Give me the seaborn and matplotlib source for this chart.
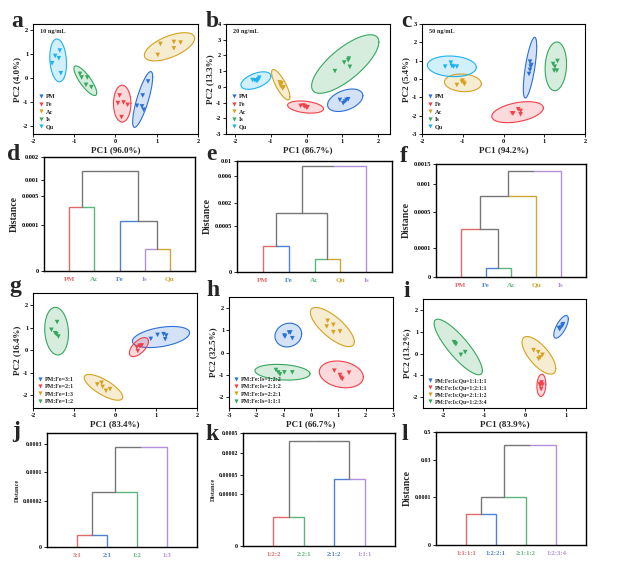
import numpy as np
import pandas as pd
import seaborn as sns
import matplotlib
matplotlib.use("Agg")
import matplotlib.pyplot as plt
from matplotlib.lines import Line2D
from matplotlib.ticker import MultipleLocator


# --- colours
c_blue = "#2c6fd9"
c_red = "#f0414a"
c_gold = "#d6a21f"
c_green = "#35a85e"
c_sky = "#1db2f0"
d_red = "#e06a6a"
d_green = "#5cb57c"
d_blue = "#4f81d3"
d_purple = "#b48fd9"
d_gold = "#cfa536"
d_gray = "#777777"

# --- PCA panels: points + ellipse (xmin, xmax, ymin, ymax, tilt)
a_groups = ["PM", "Fe", "Ac", "Is", "Qu"]
a_x = [[0.789, 0.659, 0.520, 0.642, 0.683],
       [0.098, 0.057, 0.195, 0.293, 0.146],
       [1.089, 1.415, 1.577, 1.415, 1.024],
       [-0.862, -0.821, -0.683, -0.715, -0.585],
       [-1.350, -1.463, -1.374, -1.537, -1.325]]
a_y = [[-0.145, -0.727, -1.156, -1.183, -1.322],
       [-0.727, -1.045, -1.017, -1.114, -1.626],
       [1.419, 1.502, 1.474, 1.239, 0.962],
       [0.173, 0.021, 0.021, -0.284, -0.381],
       [1.142, 0.920, 0.824, 0.616, 0.201]]
a_ell = [(0.415, 0.902, -2.055, 0.270, 0.8),
         (-0.049, 0.374, -1.834, -0.298, 0.0),
         (0.699, 1.919, 0.713, 1.889, 0.6),
         (-1.008, -0.455, -0.727, 0.505, -0.82),
         (-1.593, -1.187, -0.159, 1.626, -0.15)]

b_groups = a_groups
b_x = [[0.930, 1.023, 1.116, 1.163, 1.070],
       [-0.167, -0.047, 0.000, 0.028, -0.084],
       [-0.753, -0.698, -0.726, -0.670, -0.642],
       [0.791, 1.051, 1.163, 1.181, 1.209],
       [-1.507, -1.442, -1.386, -1.349, -1.321]]
b_y = [[-0.832, -1.042, -0.832, -0.789, -0.937],
       [-1.211, -1.253, -1.316, -1.295, -1.189],
       [0.284, 0.221, 0.074, -0.095, -0.032],
       [1.000, 1.547, 1.695, 1.800, 1.274],
       [0.432, 0.411, 0.368, 0.474, 0.579]]
b_ell = [(0.586, 1.572, -1.568, -0.137, 0.4),
         (-0.530, 0.474, -1.674, -0.895, -0.3),
         (-0.977, -0.465, -0.832, 1.105, -0.8),
         (0.140, 2.019, -0.411, 3.316, 0.75),
         (-1.833, -0.995, -0.158, 0.958, 0.5)]

c_groups = a_groups
c_x = [[0.650, 0.683, 0.650, 0.626, 0.667],
       [0.214, 0.362, 0.420, 0.420, 0.239],
       [-1.144, -1.004, -0.979, -0.955, -1.021],
       [1.218, 1.259, 1.325, 1.243, 1.309],
       [-1.432, -1.292, -1.267, -1.226, -1.144]]
c_y = [[0.945, 0.764, 0.491, 0.273, 0.673],
       [-1.873, -1.655, -1.745, -1.927, -1.873],
       [-0.327, -0.091, -0.200, -0.273, -0.145],
       [0.818, 0.673, 0.982, 0.455, 0.455],
       [0.673, 0.891, 0.709, 0.673, 0.673]]
c_ell = [(0.486, 0.815, -1.036, 2.273, 0.7),
         (-0.288, 0.979, -2.382, -1.236, 0.4),
         (-1.449, -0.543, -0.691, 0.273, -0.1),
         (1.021, 1.547, -0.636, 2.018, 0.1),
         (-1.868, -0.667, 0.127, 1.255, -0.1)]

g_groups = ["PM:Fe=3:1", "PM:Fe=2:1", "PM:Fe=1:3", "PM:Fe=1:2"]
g_x = [[0.873, 1.037, 1.184, 1.249, 1.224],
       [0.531, 0.596, 0.653, 0.555, 0.629],
       [-0.433, -0.327, -0.302, -0.220, -0.122],
       [-1.412, -1.551, -1.461, -1.429, -1.380]]
g_y = [[0.507, 0.687, 0.716, 0.657, 0.493],
       [0.134, 0.194, 0.209, -0.030, 0.194],
       [-1.522, -1.448, -1.627, -1.806, -1.731],
       [1.254, 0.910, 0.761, 0.716, 0.612]]
g_ell = [(0.424, 1.820, 0.119, 1.060, 0.4),
         (0.351, 0.816, -0.284, 0.567, 0.6),
         (-0.751, 0.188, -2.224, -1.075, -0.75),
         (-1.714, -1.135, -0.209, 1.910, -0.1)]

h_groups = ["PM:Fe:Is=1:2:2", "PM:Fe:Is=2:1:2", "PM:Fe:Is=2:2:1", "PM:Fe:Is=1:1:1"]
h_x = [[-0.951, -0.805, -0.756, -0.683, -0.976],
       [0.854, 1.061, 1.098, 1.146, 1.390],
       [0.610, 0.817, 0.573, 0.817, 1.061],
       [-1.280, -1.195, -1.134, -0.976, -0.683]]
h_y = [[0.718, 0.899, 0.899, 0.643, 0.763],
       [-0.820, -1.017, -1.137, -1.198, -0.911],
       [1.427, 1.246, 1.170, 0.914, 0.944],
       [-0.790, -0.896, -0.986, -0.896, -0.896]]
h_ell = [(-1.317, -0.341, 0.250, 1.321, 0.1),
         (0.305, 1.915, -1.590, -0.383, -0.2),
         (-0.024, 1.585, 0.265, 2.030, -0.75),
         (-2.049, -0.037, -1.243, -0.534, -0.2)]

i_groups = ["PM:Fe:Is:Qu=1:1:1:1", "PM:Fe:Is:Qu=1:2:1:1",
            "PM:Fe:Is:Qu=2:1:1:2", "PM:Fe:Is:Qu=1:2:3:4"]
i_x = [[0.839, 0.879, 0.920, 0.936, 0.855],
       [0.376, 0.409, 0.433, 0.401, 0.376],
       [0.214, 0.328, 0.433, 0.376, 0.336],
       [-1.740, -1.692, -1.716, -1.570, -1.465]]
i_y = [[1.160, 1.191, 1.282, 1.344, 1.115],
       [-1.405, -1.328, -1.435, -1.634, -1.466],
       [0.153, 0.061, -0.061, -0.183, -0.244],
       [0.519, 0.427, 0.473, -0.061, 0.061]]
i_ell = [(0.709, 1.066, 0.702, 1.740, 0.7),
         (0.295, 0.514, -1.969, -0.947, 0.1),
         (-0.070, 0.758, -0.947, 0.779, -0.7),
         (-2.227, -1.043, -0.977, 1.573, -0.85)]

# --- dendrograms: leaves, merges (child, child, distance), axis ticks
d_leaves = ["PM", "Ac", "Fe", "Is", "Qu"]
d_cols = [d_red, d_green, d_blue, d_purple, d_gold]
d_merges = [(3, 4, 4.86e-5), (2, 5, 1.6e-4), (0, 1, 3.54e-4), (7, 6, 1.37e-3)]
d_ticks = [0, 1e-4, 5e-4, 1e-3, 2e-3]
d_ticklabels = ["0", "0.0001", "0.0005", "0.001", "0.002"]

e_leaves = ["PM", "Fe", "Ac", "Qu", "Is"]
e_cols = [d_red, d_blue, d_green, d_gold, d_purple]
e_merges = [(2, 3, 1.42e-4), (0, 1, 2.85e-4), (6, 5, 1.34e-3), (7, 4, 8.6e-3)]
e_ticks = [0, 5e-4, 2e-3, 6e-3, 1e-2]
e_ticklabels = ["0", "0.0005", "0.002", "0.006", "0.01"]

f_leaves = ["PM", "Fe", "Ac", "Qu", "Is"]
f_cols = [d_red, d_blue, d_green, d_gold, d_purple]
f_merges = [(1, 2, 2.99e-5), (0, 5, 3.03e-4), (6, 3, 7.8e-4), (7, 4, 1.33e-3)]
f_ticks = [0, 1e-4, 5e-4, 1e-3, 1.5e-3]
f_ticklabels = ["0", "0.0001", "0.0005", "0.001", "0.0015"]

j_leaves = ["3:1", "2:1", "1:2", "1:3"]
j_cols = [d_red, d_blue, d_green, d_purple]
j_merges = [(0, 1, 5.2e-6), (4, 2, 4.44e-5), (5, 3, 2.745e-4)]
j_ticks = [0, 2e-5, 1e-4, 3e-4]
j_ticklabels = ["0", "0.00002", "0.0001", "0.0003"]

k_leaves = ["1:2:2", "2:2:1", "2:1:2", "1:1:1"]
k_cols = [d_red, d_green, d_blue, d_purple]
k_merges = [(0, 1, 5.7e-6), (2, 3, 4.26e-5), (4, 5, 3.72e-4)]
k_ticks = [0, 1e-5, 5e-5, 2e-4, 5e-4]
k_ticklabels = ["0", "0.00001", "0.00005", "0.0002", "0.0005"]

l_leaves = ["1:1:1:1", "1:2:2:1", "2:1:1:2", "1:2:3:4"]
l_cols = [d_red, d_blue, d_green, d_purple]
l_merges = [(0, 1, 6.4e-5), (4, 2, 1.02e-4), (5, 3, 0.273)]
l_ticks = [0, 1e-4, 0.03, 0.5]
l_ticklabels = ["0", "0.0001", "0.03", "0.5"]


sns.set_theme(style="ticks")
plt.rcParams["font.family"] = ["Liberation Serif", "DejaVu Serif"]
plt.rcParams["font.weight"] = "bold"
plt.rcParams["axes.labelweight"] = "bold"
plt.rcParams["axes.edgecolor"] = "black"
plt.rcParams["axes.linewidth"] = 0.8
plt.rcParams["axes.unicode_minus"] = False
plt.rcParams["xtick.color"] = "black"
plt.rcParams["ytick.color"] = "black"

W, H = 618, 574
fig = plt.figure(figsize=(W / 100, H / 100), dpi=100)


def add_ax(l, t, r, b):
    return fig.add_axes([l / W, 1 - b / H, (r - l) / W, (b - t) / H])


def ellipse(ax, box, col):
    x0, x1, y0, y1, rho = box
    sx, sy = (x1 - x0) / 2, (y1 - y0) / 2
    cov = np.array([[sx * sx, rho * sx * sy], [rho * sx * sy, sy * sy]])
    L = np.linalg.cholesky(cov)
    t = np.linspace(0, 2 * np.pi, 200)
    pts = L @ np.vstack([np.cos(t), np.sin(t)])
    ex = pts[0] + (x0 + x1) / 2
    ey = pts[1] + (y0 + y1) / 2
    ax.fill(ex, ey, color=col, alpha=0.2, lw=0, zorder=1)
    ax.plot(ex, ey, color=col, lw=0.8, zorder=2)


def pca_panel(rect, groups, xs, ys, ells, cols, xlab, ylab, xlim, ylim,
              note=None, leg_fs=4.5):
    ax = add_ax(*rect)
    rows = []
    for gname, gx, gy in zip(groups, xs, ys):
        for xv, yv in zip(gx, gy):
            rows.append((gname, xv, yv))
    df = pd.DataFrame(rows, columns=["group", "x", "y"])
    for box, col in zip(ells, cols):
        ellipse(ax, box, col)
    sns.scatterplot(data=df, x="x", y="y", hue="group", hue_order=groups,
                    palette=cols, marker="v", s=11, linewidth=0,
                    legend=False, ax=ax, zorder=3)
    ax.set_xlim(*xlim)
    ax.set_ylim(*ylim)
    ax.xaxis.set_major_locator(MultipleLocator(1))
    ax.yaxis.set_major_locator(MultipleLocator(1))
    ax.tick_params(labelsize=4.5, length=2, width=0.6, pad=1.5)
    ax.set_xlabel(xlab, fontsize=6.5, labelpad=1.5)
    ax.set_ylabel(ylab, fontsize=6.5, labelpad=1)
    handles = [Line2D([], [], marker="v", ls="", color=c, markersize=3,
                      markeredgewidth=0) for c in cols]
    ax.legend(handles, groups, loc="lower left", frameon=False,
              fontsize=leg_fs, handlelength=1.0, handletextpad=0.3,
              labelspacing=0.35, borderaxespad=0.4, borderpad=0.3)
    if note:
        ax.text(0.04, 0.95, note, transform=ax.transAxes, fontsize=4.5,
                va="top", fontweight="bold")
    return ax


def dendro_panel(rect, leaves, cols, merges, ticks, ticklabels, knot_pos,
                 top=None, lab_fs=7, leaf_fs=5.2, tick_fs=4.6):
    ax = add_ax(*rect)
    vals = list(ticks) + ([top] if top is not None else [])
    vals = np.array(vals, dtype=float)
    pos = np.array(knot_pos, dtype=float)

    def fwd(v):
        return np.interp(v, vals, pos)

    def inv(p):
        return np.interp(p, pos, vals)

    ax.set_yscale("function", functions=(fwd, inv))
    n = len(leaves)
    xs = list(range(1, n + 1))
    hs = [0.0] * n
    cc = list(cols)
    for i, j, h in merges:
        xc = (xs[i] + xs[j]) / 2
        for k in (i, j):
            ax.plot([xs[k], xs[k], xc], [hs[k], h, h], color=cc[k], lw=1.0,
                    solid_joinstyle="miter")
        xs.append(xc)
        hs.append(h)
        cc.append(d_gray)
    ax.set_xlim(0, n + 1)
    ax.set_ylim(0, vals[-1])
    ax.set_yticks(ticks)
    ax.set_yticklabels(ticklabels)
    ax.set_xticks(range(1, n + 1))
    ax.set_xticklabels(leaves)
    for tl, c in zip(ax.get_xticklabels(), cols):
        tl.set_color(c)
        tl.set_fontsize(leaf_fs)
    ax.tick_params(axis="x", length=0, pad=4)
    ax.tick_params(axis="y", labelsize=tick_fs, length=2, width=0.6, pad=1.5)
    ax.minorticks_off()
    ax.set_ylabel("Distance", fontsize=lab_fs, labelpad=2)
    for s in ax.spines.values():
        s.set_linewidth(1.0)
    return ax


col5 = [c_blue, c_red, c_gold, c_green, c_sky]
col4 = [c_blue, c_red, c_gold, c_green]

pca_panel((33, 24, 198, 134), a_groups, a_x, a_y, a_ell, col5,
          "PC1 (96.0%)", "PC2 (4.0%)", (-2, 2), (-2.33, 2.25), "10 ng/mL")
pca_panel((226, 24, 390, 134), b_groups, b_x, b_y, b_ell, col5,
          "PC1 (86.7%)", "PC2 (13.3%)", (-2.25, 2.33), (-3, 4), "20 ng/mL")
pca_panel((422, 24, 585, 134), c_groups, c_x, c_y, c_ell, col5,
          "PC1 (94.2%)", "PC2 (5.4%)", (-2, 2), (-3, 3), "50 ng/mL")

dendro_panel((44, 157, 195, 271), d_leaves, d_cols, d_merges, d_ticks,
             d_ticklabels, [0, 0.402, 0.656, 0.802, 1.0])
dendro_panel((237, 161, 392, 272), e_leaves, e_cols, e_merges, e_ticks,
             e_ticklabels, [0, 0.411, 0.622, 0.862, 1.0])
dendro_panel((436, 164, 586, 277), f_leaves, f_cols, f_merges, f_ticks,
             f_ticklabels, [0, 0.258, 0.579, 0.822, 1.0])

pca_panel((33, 293, 197, 408), g_groups, g_x, g_y, g_ell, col4,
          "PC1 (83.4%)", "PC2 (16.4%)", (-2, 2), (-2.57, 2.55), leg_fs=4.3)
pca_panel((229, 297, 393, 408), h_groups, h_x, h_y, h_ell, col4,
          "PC1 (66.7%)", "PC2 (32.5%)", (-3, 3), (-2.5, 2.5), leg_fs=4.3)
pca_panel((423, 299, 586, 408), i_groups, i_x, i_y, i_ell, col4,
          "PC1 (83.9%)", "PC2 (13.2%)", (-2.5, 1.5), (-2.5, 2.5), leg_fs=4.1)

dendro_panel((47, 433, 197, 547), j_leaves, j_cols, j_merges, j_ticks,
             j_ticklabels, [0, 0.406, 0.655, 0.906, 1.0], top=3.75e-4,
             lab_fs=4.5, leaf_fs=4.8, tick_fs=4.2)
dendro_panel((243, 433, 395, 546), k_leaves, k_cols, k_merges, k_ticks,
             k_ticklabels, [0, 0.456, 0.629, 0.826, 1.0],
             lab_fs=4.5, leaf_fs=4.8, tick_fs=4.2)
dendro_panel((436, 432, 586, 545), l_leaves, l_cols, l_merges, l_ticks,
             l_ticklabels, [0, 0.426, 0.756, 1.0],
             lab_fs=7, leaf_fs=4.8, tick_fs=4.2)

# panel letters
letters = [("a", 11, 27), ("b", 206, 27), ("c", 401, 27),
           ("d", 7, 160), ("e", 206, 160), ("f", 400, 162),
           ("g", 9, 292), ("h", 206, 296), ("i", 403, 297),
           ("j", 12, 437), ("k", 205, 440), ("l", 402, 440)]
for s, x, y in letters:
    fig.text(x / W, 1 - y / H, s, fontsize=17, fontweight="bold",
             va="baseline", ha="left")

fig.savefig("out.png", dpi=100)
